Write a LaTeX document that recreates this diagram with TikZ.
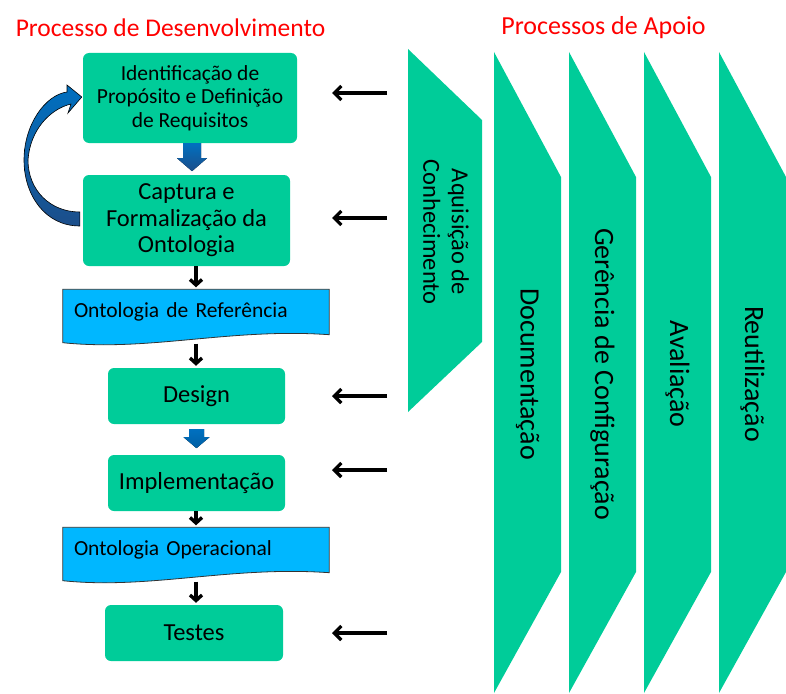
\documentclass[tikz,border=0pt]{standalone}
\usepackage{fontspec}
\setmainfont{Carlito}
\usetikzlibrary{arrows.meta,calc,backgrounds}

\definecolor{procgreen}{RGB}{0,204,153}
\definecolor{docblue}{RGB}{0,183,255}
\definecolor{arrowblue}{RGB}{0,112,192}
\definecolor{arrowdark}{RGB}{28,78,138}
\definecolor{titlered}{RGB}{255,0,0}

\tikzset{
  procbox/.style={fill=procgreen, rounded corners=6pt, align=center, inner sep=0pt,
    font=\fontsize{24.5}{26.5}\selectfont},
  docnode/.style={minimum height=45pt, text width=244pt, inner xsep=11pt, inner ysep=0pt,
    align=left, font=\fontsize{21.5}{24}\selectfont},
  docshape/.style={fill=docblue, draw=black!80, line width=0.8pt},
  supportshape/.style={fill=procgreen},
  supportlabel/.style={rotate=-90, align=center, inner sep=0pt, font=\fontsize{28}{31}\selectfont},
  titletext/.style={text=titlered, inner sep=0pt, font=\fontsize{25.5}{28}\selectfont},
  flowarrow/.style={line width=3.4pt, -{Straight Barb[length=5.5pt,width=12pt]}, shorten >=2pt},
  sidearrow/.style={line width=3.2pt, -{Straight Barb[length=7pt,width=14pt]}},
  blockarrow/.style={top color=arrowblue, bottom color=arrowdark, draw=none},
}

\begin{document}
\begin{tikzpicture}[x=1pt,y=-1pt]
\useasboundingbox (0,0) rectangle (786,693);

% headings
\node[titletext] (devtitle) at (170.5,28) {Processo de Desenvolvimento};
\node[titletext, font=\fontsize{26}{28}\selectfont] (suptitle) at (603.5,28) {Processos de Apoio};

% development process steps
\node[procbox, minimum width=214pt, minimum height=90pt, font=\fontsize{21.5}{23.5}\selectfont]
  (ident) at (190,98) {Identificação de\\Propósito e Definição\\de Requisitos};
\node[procbox, minimum width=207pt, minimum height=91pt]
  (captura) at (186.5,220.5) {Captura e\\Formalização da\\Ontologia};
\node[docnode] (ref) at (196,312) {Ontologia de Referência};
\node[procbox, minimum width=177pt, minimum height=56pt] (design) at (196.5,396) {Design};
\node[procbox, minimum width=177pt, minimum height=56pt] (impl) at (196.5,483) {Implementação};
\node[docnode] (oper) at (196,550) {Ontologia Operacional};
\node[procbox, minimum width=178pt, minimum height=56pt] (testes) at (194,633) {Testes};

% document shapes with wavy lower edge
\begin{scope}[on background layer]
  \foreach \d in {ref,oper}{
    \draw[docshape] (\d.north west) -- (\d.north east) -- (\d.south east)
      .. controls +(-99,-7) and +(87,9) .. ($(\d.south west)+(0,8)$) -- cycle;
  }
\end{scope}

% block arrows between steps
\fill[blockarrow] ($(ident.south)+(2,0)$) ++(-9,0) -- ++(18,0) -- ++(0,15) -- ++(6,0)
  -- ++(-15,13) -- ++(-15,-13) -- ++(6,0) -- cycle;
\fill[blockarrow, top color=arrowblue, bottom color=arrowblue!85!black]
  ($(design.south)+(0,5)$) ++(-7.5,0) -- ++(15,0) -- ++(0,8) -- ++(5.5,0)
  -- ++(-13,11) -- ++(-13,-11) -- ++(5.5,0) -- cycle;

% curved feedback arrow from capture back to identification
\draw[blockarrow, draw=black, line width=0.6pt]
  ($(captura.west)+(-3,5.5)$) .. controls (45,226) and (24,195) .. (24,160)
  .. controls (24,125) and (45,95) .. (67,92) -- (67,85) -- ($(ident.west)+(-1,-1)$)
  -- (68,113) -- (71,104) .. controls (50,109) and (30,130) .. (28,160)
  .. controls (28,190) and (50,212) .. ($(captura.west)+(-3,-8.5)$) -- cycle;

% thin flow arrows
\draw[flowarrow] (captura.south -| ref.north) -- (ref.north);
\draw[flowarrow] ($(ref.south)+(0,9)$) -- (ref.south |- design.north);
\draw[flowarrow] (impl.south -| oper.north) -- (oper.north);
\draw[flowarrow] ($(oper.south)+(0,9)$) -- (oper.south |- testes.north);

% support processes
\fill[supportshape] (408,49) -- (482,120) -- (482,342) -- (408,412) -- cycle;
\foreach \x in {494,569,644,719}{
  \fill[supportshape] (\x,52) -- (\x+67,177) -- (\x+67,572) -- (\x,693) -- cycle;
}
\node[supportlabel, font=\fontsize{24.5}{28.5}\selectfont] (acq) at (446,232) {Aquisição de\\Conhecimento};
\node[supportlabel] (doc) at (527.5,374) {Documentação};
\node[supportlabel] (ger) at (602.5,374) {Gerência de Configuração};
\node[supportlabel] (ava) at (677.5,374) {Avaliação};
\node[supportlabel] (reu) at (752.5,374) {Reutilização};

% arrows from the support processes
\foreach \n/\y in {a/93,b/218,c/396,d/470,e/633}{
  \coordinate (src\n) at (387,\y);
  \coordinate (dst\n) at (332,\y);
  \draw[sidearrow] (src\n) -- (dst\n);
}
\end{tikzpicture}
\end{document}
